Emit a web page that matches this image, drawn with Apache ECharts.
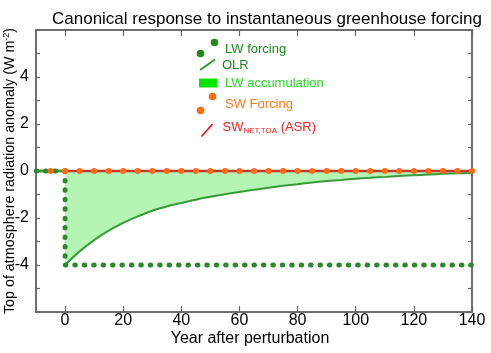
<!DOCTYPE html>
<html>
<head>
<meta charset="utf-8">
<script src="https://cdn.jsdelivr.net/npm/echarts@6/dist/echarts.min.js"></script>
<style>
html,body{margin:0;padding:0;background:#fff;}
#chart{width:491px;height:353px;}
</style>
</head>
<body>
<div id="chart"></div>
<script>
// ---- data ----
const xTicks = [0, 20, 40, 60, 80, 100, 120, 140];
const yTicks = [-4, -2, 0, 2, 4];

// LW forcing (step change at year 0)
const lwForcingYears = [-10, 0, 0, 140];
const lwForcingValues = [0, 0, -4, -4];

// OLR response (before and after perturbation)
const olrPreYears = [-10, 0];
const olrPreValues = [0, 0];
const olrYears = [0, 5, 10, 15, 20, 25, 30, 35, 40, 45, 50, 55, 60, 65, 70, 75, 80, 85, 90, 95, 100, 105, 110, 115, 120, 125, 130, 135, 140];
const olrValues = [-4.00, -3.42, -2.94, -2.54, -2.21, -1.93, -1.69, -1.51, -1.36, -1.22, -1.10, -0.99, -0.89, -0.80, -0.71, -0.63, -0.56, -0.49, -0.43, -0.38, -0.33, -0.29, -0.25, -0.21, -0.18, -0.15, -0.12, -0.10, -0.08];

// SW forcing (zero) sampled every 5 years
const swForcingYears = [-5, 0, 5, 10, 15, 20, 25, 30, 35, 40, 45, 50, 55, 60, 65, 70, 75, 80, 85, 90, 95, 100, 105, 110, 115, 120, 125, 130, 135, 140];
const swForcingValues = [0, 0, 0, 0, 0, 0, 0, 0, 0, 0, 0, 0, 0, 0, 0, 0, 0, 0, 0, 0, 0, 0, 0, 0, 0, 0, 0, 0, 0, 0];

// SW net TOA (ASR)
const swNetYears = [-10, 140];
const swNetValues = [0, 0];

const pairs = (xs, ys) => xs.map((x, i) => [x, ys[i]]);

// ---- chart ----
const FONT = 'Liberation Sans, Arial, sans-serif';
const AXIS_COLOR = '#666';
const chart = echarts.init(document.getElementById('chart'), null, {renderer: 'canvas'});

const lwAll = pairs(lwForcingYears, lwForcingValues);
const lwMain = lwAll.slice(1);             // from (0,0) down and across
const lwPre = lwAll.slice(0, 2).reverse(); // from (0,0) back to the left

const dotStyle = {color: '#2a8a2a', width: 5, type: [0.5, 8.93], cap: 'round'};

const axisLineStyle = {show: true, onZero: false, lineStyle: {color: AXIS_COLOR, width: 1.5}};

const option = {
  animation: false,
  backgroundColor: '#fff',
  title: {
    text: 'Canonical response to instantaneous greenhouse forcing',
    left: 262, top: 6, textAlign: 'center',
    textStyle: {fontFamily: FONT, fontSize: 17, fontWeight: 'normal', color: '#000'}
  },
  grid: {left: 36, right: 19, top: 30, bottom: 41, containLabel: false, outerBoundsMode: 'none',
         show: true, borderColor: AXIS_COLOR, borderWidth: 1.5, backgroundColor: 'transparent'},
  xAxis: [{
    type: 'value', min: -10, max: 140, position: 'bottom',
    name: 'Year after perturbation', nameLocation: 'middle', nameGap: 19, nameMoveOverlap: false,
    nameTextStyle: {fontFamily: FONT, fontSize: 16, color: '#000', padding: [0, 8, 0, 0]},
    axisLine: axisLineStyle,
    axisTick: {show: true, inside: true, length: 6, customValues: xTicks, lineStyle: {color: AXIS_COLOR, width: 1.2}},
    axisLabel: {show: true, customValues: xTicks, fontFamily: FONT, fontSize: 16, color: '#000', margin: 1},
    splitLine: {show: false}
  }, {
    type: 'value', min: -10, max: 140, position: 'top',
    axisLine: axisLineStyle,
    axisTick: {show: true, inside: true, length: 6, customValues: xTicks, lineStyle: {color: AXIS_COLOR, width: 1.2}},
    axisLabel: {show: false},
    splitLine: {show: false}
  }],
  yAxis: [{
    type: 'value', min: -6, max: 6, interval: 1, position: 'left',
    name: '{a|Top of atmosphere radiation anomaly (W m}{s|-2}{a|)}',
    nameLocation: 'middle', nameGap: 18, nameRotate: 90, nameMoveOverlap: false,
    nameTextStyle: {
      fontFamily: FONT, color: '#000',
      rich: {
        a: {fontFamily: FONT, fontSize: 14.3, color: '#000', lineHeight: 16, verticalAlign: 'middle'},
        s: {fontFamily: FONT, fontSize: 9, color: '#000', lineHeight: 10, verticalAlign: 'top'}
      }
    },
    axisLine: axisLineStyle,
    axisTick: {show: true, inside: true, length: 4, lineStyle: {color: AXIS_COLOR, width: 1.2}},
    axisLabel: {show: true, fontFamily: FONT, fontSize: 16, color: '#000', margin: 7,
      formatter: v => (yTicks.indexOf(v) >= 0 ? String(v) : '')},
    splitLine: {show: false}
  }, {
    type: 'value', min: -6, max: 6, interval: 1, position: 'right',
    axisLine: axisLineStyle,
    axisTick: {show: true, inside: true, length: 4, lineStyle: {color: AXIS_COLOR, width: 1.2}},
    axisLabel: {show: false},
    splitLine: {show: false}
  }],
  series: [
    { // OLR curve with LW accumulation fill
      name: 'OLR', type: 'line', data: pairs(olrYears, olrValues),
      smooth: 0.3, showSymbol: false, symbol: 'none',
      lineStyle: {color: '#3a9a3a', width: 2},
      areaStyle: {color: '#b4f5b4', opacity: 1, origin: 0},
      z: 2
    },
    { // SW net TOA line
      name: 'SWnet', type: 'line', data: pairs(swNetYears, swNetValues),
      showSymbol: false, symbol: 'none',
      lineStyle: {color: '#c23a2c', width: 2.5},
      z: 3
    },
    { // OLR before perturbation
      name: 'OLRpre', type: 'line', data: pairs(olrPreYears, olrPreValues),
      showSymbol: false, symbol: 'none',
      lineStyle: {color: '#3a9a3a', width: 2.5},
      z: 4
    },
    { // LW forcing dotted (main)
      name: 'LW forcing', type: 'line', data: lwMain,
      showSymbol: false, symbol: 'none', lineStyle: dotStyle, z: 5
    },
    { // LW forcing dotted (pre)
      name: 'LW forcing pre', type: 'line', data: lwPre,
      showSymbol: false, symbol: 'none', lineStyle: dotStyle, z: 5
    },
    { // SW forcing dots
      name: 'SW Forcing', type: 'scatter', data: pairs(swForcingYears, swForcingValues),
      symbol: 'circle', symbolSize: 6,
      itemStyle: {color: '#ff6a13', opacity: 1},
      z: 6
    }
  ],
  graphic: [
    {type: 'circle', shape: {cx: 200.5, cy: 53.5, r: 3.8}, style: {fill: '#1f8a1f'}},
    {type: 'circle', shape: {cx: 214.5, cy: 42.5, r: 3.8}, style: {fill: '#1f8a1f'}},
    {type: 'text', style: {x: 225, y: 49.5, text: 'LW forcing', fill: '#1a8a1a', font: '13px ' + FONT, textVerticalAlign: 'middle'}},
    {type: 'line', shape: {x1: 200, y1: 70, x2: 215, y2: 59.5}, style: {stroke: '#2a9a2a', lineWidth: 2}},
    {type: 'text', style: {x: 222, y: 65, text: 'OLR', fill: '#1a8a1a', font: '13px ' + FONT, textVerticalAlign: 'middle'}},
    {type: 'rect', shape: {x: 199, y: 78.5, width: 18, height: 9}, style: {fill: '#00e400'}},
    {type: 'text', style: {x: 225, y: 83.5, text: 'LW accumulation', fill: '#22dd22', font: '13px ' + FONT, textVerticalAlign: 'middle'}},
    {type: 'circle', shape: {cx: 212.5, cy: 96.5, r: 3.8}, style: {fill: '#ff6a13'}},
    {type: 'circle', shape: {cx: 200.5, cy: 110.5, r: 3.8}, style: {fill: '#ff6a13'}},
    {type: 'text', style: {x: 225, y: 104, text: 'SW Forcing', fill: '#ff7a20', font: '13px ' + FONT, textVerticalAlign: 'middle'}},
    {type: 'line', shape: {x1: 201.5, y1: 136.5, x2: 212.5, y2: 124}, style: {stroke: '#ee1a1a', lineWidth: 1.8}},
    {type: 'text', style: {x: 222.5, y: 127, text: '{a|SW}{b|NET,TOA}{a| (ASR)}', fill: '#ee2222',
      textVerticalAlign: 'middle',
      rich: {
        a: {fontFamily: FONT, fontSize: 13, fill: '#ee2222', color: '#ee2222', lineHeight: 15, verticalAlign: 'middle'},
        b: {fontFamily: FONT, fontSize: 8, fill: '#ee2222', color: '#ee2222', lineHeight: 8, verticalAlign: 'bottom'}
      }}}
  ]
};
chart.setOption(option);
</script>
</body>
</html>
